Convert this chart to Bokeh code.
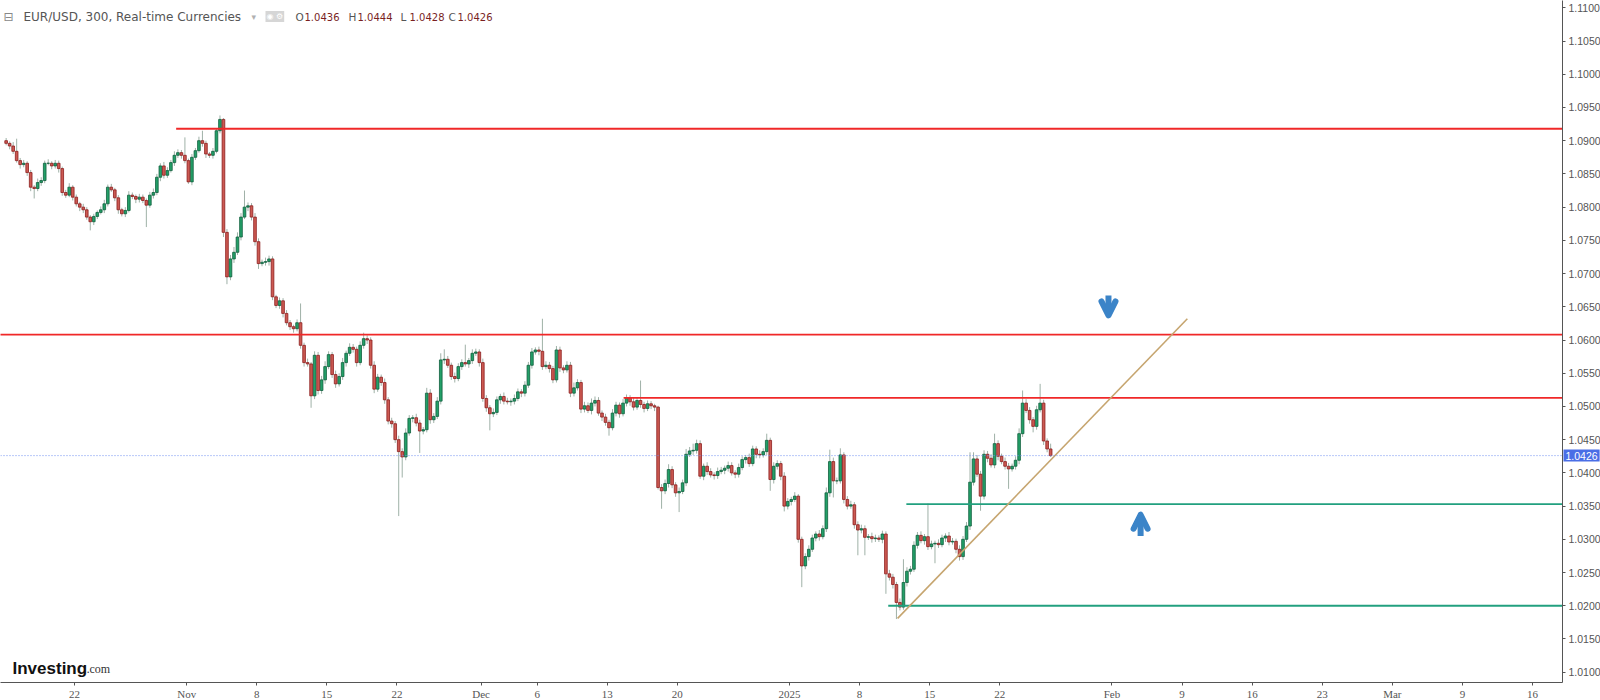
import numpy as np
from bokeh.plotting import figure
from bokeh.models import (ColumnDataSource, FixedTicker, Label, Arrow, OpenHead,
                          Span, PrintfTickFormatter)
from bokeh.embed import file_html
from bokeh.resources import INLINE

# ---------------- data ----------------
TITLE = "EUR/USD, 300, Real-time Currencies"
OHLC_KEYS = ["O", "H", "L", "C"]
OHLC_VALS = ["1.0436", "1.0444", "1.0428", "1.0426"]

CANDLE_START = "2024-10-15 03:00"
CANDLE_STEP_DAYS = 6 / 24
FIRST_OPEN = 1.0900

CLOSE = [
    1.0896, 1.0892, 1.0884, 1.0870, 1.0864, 1.0866, 1.0852, 1.0830, 1.0828, 1.0837,
    1.0840, 1.0866, 1.0866, 1.0862, 1.0866, 1.0858, 1.0822, 1.0818, 1.0830, 1.0815,
    1.0805, 1.0800, 1.0796, 1.0785, 1.0778, 1.0786, 1.0792, 1.0796, 1.0805, 1.0830,
    1.0826, 1.0814, 1.0796, 1.0790, 1.0795, 1.0818, 1.0816, 1.0812, 1.0815, 1.0810,
    1.0803, 1.0818, 1.0822, 1.0845, 1.0862, 1.0848, 1.0855, 1.0867, 1.0878, 1.0882,
    1.0878, 1.0870, 1.0838, 1.0875, 1.0885, 1.0900, 1.0896, 1.0880, 1.0878, 1.0884,
    1.0915, 1.0932, 1.0762, 1.0695, 1.0722, 1.0732, 1.0755, 1.0785, 1.0800, 1.0802,
    1.0785, 1.0748, 1.0715, 1.0717, 1.0718, 1.0722, 1.0665, 1.0652, 1.0659, 1.0640,
    1.0626, 1.0620, 1.0617, 1.0626, 1.0592, 1.0566, 1.0564, 1.0516, 1.0577, 1.0524,
    1.0540, 1.0560, 1.0578, 1.0548, 1.0534, 1.0545, 1.0566, 1.0580, 1.0589, 1.0586,
    1.0566, 1.0592, 1.0602, 1.0600, 1.0562, 1.0526, 1.0544, 1.0536, 1.0510, 1.0478,
    1.0474, 1.0450, 1.0432, 1.0424, 1.0460, 1.0482, 1.0483, 1.0475, 1.0463, 1.0465,
    1.0520, 1.0480, 1.0485, 1.0508, 1.0570, 1.0571, 1.0562, 1.0545, 1.0542, 1.0560,
    1.0566, 1.0564, 1.0569, 1.0580, 1.0582, 1.0566, 1.0512, 1.0498, 1.0489, 1.0491,
    1.0510, 1.0515, 1.0508, 1.0507, 1.0508, 1.0512, 1.0522, 1.0520, 1.0532, 1.0562,
    1.0582, 1.0585, 1.0583, 1.0560, 1.0562, 1.0557, 1.0540, 1.0585, 1.0558, 1.0555,
    1.0562, 1.0520, 1.0528, 1.0536, 1.0496, 1.0501, 1.0494, 1.0505, 1.0509, 1.0490,
    1.0484, 1.0476, 1.0468, 1.0490, 1.0502, 1.0489, 1.0505, 1.0513, 1.0507, 1.0499,
    1.0509, 1.0503, 1.0497, 1.0504, 1.0501, 1.0499, 1.0378, 1.0373, 1.0384, 1.0405,
    1.0382, 1.0370, 1.0372, 1.0385, 1.0428, 1.0433, 1.0434, 1.0444, 1.0395, 1.0410,
    1.0402, 1.0397, 1.0396, 1.0402, 1.0404, 1.0407, 1.0411, 1.0400, 1.0398, 1.0408,
    1.0420, 1.0423, 1.0414, 1.0436, 1.0428, 1.0427, 1.0432, 1.0449, 1.0390, 1.0410,
    1.0414, 1.0395, 1.0350, 1.0357, 1.0360, 1.0365, 1.0300, 1.0260, 1.0274, 1.0285,
    1.0302, 1.0308, 1.0304, 1.0316, 1.0370, 1.0417, 1.0388, 1.0388, 1.0427, 1.0360,
    1.0350, 1.0352, 1.0322, 1.0314, 1.0316, 1.0303, 1.0304, 1.0301, 1.0302, 1.0300,
    1.0308, 1.0248, 1.0243, 1.0232, 1.0205, 1.0198, 1.0235, 1.0252, 1.0255, 1.0291,
    1.0306, 1.0298, 1.0304, 1.0289, 1.0293, 1.0294, 1.0292, 1.0302, 1.0305, 1.0296,
    1.0297, 1.0285, 1.0274, 1.0300, 1.0320, 1.0386, 1.0421, 1.0398, 1.0365, 1.0428,
    1.0422, 1.0412, 1.0444, 1.0425, 1.0417, 1.0410, 1.0406, 1.0410, 1.0419, 1.0459,
    1.0505, 1.0494, 1.0480, 1.0470, 1.0495, 1.0505, 1.0448, 1.0436, 1.0426,
]

# wick lengths above / below the body, in pips
WICK_UP = [
    4, 3, 6, 19, 4, 5, 3, 4, 3, 6,   5, 4, 6, 3, 5, 4, 3, 4, 6, 3,
    4, 3, 5, 4, 3, 4, 3, 5, 6, 4,    5, 3, 4, 3, 5, 6, 4, 3, 5, 4,
    3, 5, 6, 5, 4, 6, 5, 4, 6, 5,    4, 27, 3, 5, 4, 6, 15, 4, 3, 5,
    4, 6, 2, 5, 6, 8, 7, 6, 25, 5,   4, 6, 5, 4, 6, 5, 4, 3, 5, 4,
    5, 4, 3, 5, 29, 4, 6, 3, 6, 5,   6, 8, 5, 4, 6, 5, 7, 4, 6, 5,
    4, 6, 9, 5, 4, 6, 5, 4, 6, 4,    5, 4, 6, 5, 7, 5, 4, 6, 5, 4,
    8, 6, 5, 6, 10, 15, 5, 4, 6, 5,  5, 27, 4, 6, 5, 4, 6, 5, 4, 6,
    5, 4, 6, 5, 4, 6, 5, 4, 6, 5,    6, 4, 5, 49, 6, 5, 4, 6, 5, 4,
    6, 5, 8, 5, 4, 6, 5, 7, 6, 5,    4, 5, 4, 6, 5, 4, 6, 5, 4, 6,
    5, 30, 4, 5, 4, 3, 2, 5, 6, 8,   5, 4, 6, 5, 8, 6, 10, 6, 5, 4,
    6, 5, 4, 6, 5, 4, 6, 5, 4, 6,    5, 4, 6, 5, 4, 6, 5, 10, 4, 6,
    5, 4, 6, 5, 4, 6, 3, 4, 5, 6,    5, 4, 6, 5, 8, 18, 6, 5, 10, 4,
    5, 6, 4, 5, 6, 5, 4, 6, 5, 4,    5, 4, 6, 5, 4, 6, 35, 6, 5, 6,
    5, 6, 4, 50, 5, 4, 6, 5, 4, 6,   5, 4, 6, 5, 6, 45, 10, 6, 5, 6,
    5, 6, 15, 5, 4, 6, 5, 4, 6, 8,   19, 6, 5, 4, 6, 29, 5, 4, 8,
]
WICK_DOWN = [
    3, 5, 4, 3, 6, 4, 5, 6, 15, 4,   5, 4, 3, 5, 4, 6, 5, 4, 3, 5,
    4, 6, 5, 4, 13, 5, 4, 3, 5, 4,   3, 5, 6, 4, 5, 3, 4, 6, 5, 4,
    33, 4, 5, 4, 6, 5, 4, 3, 5, 4,   5, 4, 3, 5, 4, 3, 5, 6, 4, 5,
    3, 4, 7, 11, 5, 6, 4, 5, 3, 6,   5, 6, 8, 4, 5, 6, 5, 4, 5, 6,
    4, 5, 6, 4, 5, 6, 4, 18, 5, 6,   5, 6, 4, 5, 6, 4, 5, 6, 4, 5,
    6, 4, 5, 6, 5, 6, 4, 5, 6, 5,    6, 5, 97, 31, 5, 4, 6, 5, 33, 5,
    4, 6, 5, 4, 5, 6, 4, 5, 6, 4,    5, 4, 6, 5, 4, 6, 5, 6, 25, 5,
    4, 6, 5, 4, 6, 5, 4, 6, 5, 4,    5, 4, 6, 5, 4, 6, 5, 4, 6, 5,
    4, 6, 5, 4, 6, 5, 4, 6, 5, 4,    6, 5, 12, 4, 5, 6, 4, 5, 6, 5,
    4, 5, 6, 4, 5, 6, 3, 27, 5, 6,   5, 6, 29, 4, 5, 4, 6, 5, 4, 6,
    5, 4, 6, 5, 4, 6, 5, 4, 6, 5,    4, 6, 5, 4, 6, 5, 4, 5, 17, 6,
    5, 6, 8, 5, 6, 4, 5, 32, 5, 6,   4, 5, 6, 4, 5, 6, 25, 5, 4, 6,
    5, 4, 6, 38, 5, 27, 4, 6, 5, 4,  6, 30, 5, 6, 25, 5, 4, 6, 5, 4,
    5, 4, 6, 5, 4, 29, 5, 4, 6, 5,   4, 6, 6, 5, 4, 6, 5, 4, 22, 5,
    6, 4, 5, 6, 4, 5, 30, 4, 5, 6,   5, 4, 6, 9, 5, 4, 6, 5, 2,
]

# drawn levels: (start time, price)
RES_START = ["2024-10-31 06:00", "2024-10-14 00:00", "2024-12-16 04:00"]
RES_LEVEL = [1.0918, 1.0608, 1.0513]
SUP_START = ["2025-01-13 08:00", "2025-01-10 01:00"]
SUP_LEVEL = [1.0353, 1.0200]
TREND_T = ["2025-01-10 17:00", "2025-02-10 09:00"]
TREND_P = [1.0181, 1.0632]
SIGNAL_T = ["2025-01-31 18:00", "2025-02-05 01:00"]
SIGNAL_FROM = [1.0667, 1.0305]
SIGNAL_TO = [1.0637, 1.0337]

TICK_DATES = ["2024-10-22", "2024-11-01", "2024-11-08", "2024-11-15", "2024-11-22",
              "2024-12-01", "2024-12-06", "2024-12-13", "2024-12-20", "2025-01-01",
              "2025-01-08", "2025-01-15", "2025-01-22", "2025-02-01", "2025-02-09",
              "2025-02-16", "2025-02-23", "2025-03-01", "2025-03-09", "2025-03-16"]
TICK_LABELS = ["22", "Nov", "8", "15", "22", "Dec", "6", "13", "20", "2025",
               "8", "15", "22", "Feb", "9", "16", "23", "Mar", "9", "16"]
PRICE_TICK_MIN, PRICE_TICK_MAX, PRICE_TICK_STEP = 1.0100, 1.1100, 0.0050

# ---------------- helpers ----------------
START = np.datetime64("2024-10-15")


def td(stamp):
    day, _, hm = stamp.partition(" ")
    hours = int(hm.split(":")[0]) if hm else 0
    return float(np.busday_count(START, np.datetime64(day))) + hours / 24.0


FRAME_W, FRAME_H = 1562, 682
PX_PER_DAY, PX_ORIGIN = 14.02, 3.9
X0, X1 = -PX_ORIGIN / PX_PER_DAY, (FRAME_W - PX_ORIGIN) / PX_PER_DAY
Y0, Y1 = 1.00845, 1.11110


def px2x(px):
    return (px - PX_ORIGIN) / PX_PER_DAY


def px2y(py):
    return Y1 - py * (Y1 - Y0) / FRAME_H


closes = np.array(CLOSE)
opens = np.concatenate([[FIRST_OPEN], closes[:-1]])
highs = np.maximum(opens, closes) + np.array(WICK_UP) / 1e4
lows = np.minimum(opens, closes) - np.array(WICK_DOWN) / 1e4
xs = td(CANDLE_START) + CANDLE_STEP_DAYS * np.arange(len(closes))
inc = closes >= opens

src_all = ColumnDataSource(dict(x=xs, h=highs, l=lows))
src_inc = ColumnDataSource(dict(x=xs[inc], top=closes[inc], bot=opens[inc]))
src_dec = ColumnDataSource(dict(x=xs[~inc], top=opens[~inc], bot=closes[~inc]))

# ---------------- figure ----------------
p = figure(frame_width=FRAME_W, frame_height=FRAME_H, x_range=(X0, X1), y_range=(Y0, Y1),
           y_axis_location="right", output_backend="svg", toolbar_location=None,
           min_border=0, background_fill_color="white", border_fill_color="white")
p.outline_line_color = None
p.xgrid.visible = False
p.ygrid.visible = False

WICK = "#9fb1a7"
p.segment("x", "h", "x", "l", source=src_all, line_color=WICK, line_width=1)
BW = 0.19
p.vbar(x="x", width=BW, top="top", bottom="bot", source=src_inc,
       fill_color="#23a068", line_color="#0f5e3c", line_width=0.8)
p.vbar(x="x", width=BW, top="top", bottom="bot", source=src_dec,
       fill_color="#cc5a52", line_color="#8c1d1d", line_width=0.8)

# levels
p.ray(x=[td(s) for s in RES_START], y=RES_LEVEL, length=0, angle=0,
      line_color="#f02828", line_width=1.8)
p.ray(x=[td(s) for s in SUP_START], y=SUP_LEVEL, length=0, angle=0,
      line_color="#22a07f", line_width=1.8)
p.line([td(s) for s in TREND_T], TREND_P, line_color="#c6a56f", line_width=1.6)

# current price
last = CLOSE[-1]
p.add_layout(Span(location=last, dimension="width", line_color="#7190f2",
                  line_dash="1 2", line_width=1))

BLUE = "#3b84c8"
for t, a, b in zip(SIGNAL_T, SIGNAL_FROM, SIGNAL_TO):
    p.add_layout(Arrow(x_start=td(t), y_start=a, x_end=td(t), y_end=b,
                       line_color=BLUE, line_width=6,
                       end=OpenHead(size=14, line_color=BLUE, line_width=6,
                                    line_cap="round", line_join="round")))

# axes
ticks = list(np.round(np.arange(PRICE_TICK_MIN, PRICE_TICK_MAX + 1e-9, PRICE_TICK_STEP), 4))
p.yaxis.ticker = FixedTicker(ticks=ticks)
p.yaxis.formatter = PrintfTickFormatter(format="%.4f")
p.yaxis.axis_line_color = "#555555"
p.yaxis.major_tick_line_color = "#555555"
p.yaxis.major_tick_out = 3
p.yaxis.major_tick_in = 0
p.yaxis.minor_tick_line_color = None
p.yaxis.major_label_standoff = 3
p.yaxis.major_label_text_font = "Liberation Sans"
p.yaxis.major_label_text_font_size = "10.5px"
p.yaxis.major_label_text_color = "#555555"

xt = [td(d) for d in TICK_DATES]
p.xaxis.ticker = FixedTicker(ticks=xt)
p.xaxis.major_label_overrides = {v: lab for v, lab in zip(xt, TICK_LABELS)}
p.xaxis.axis_line_color = "#555555"
p.xaxis.major_tick_line_color = "#555555"
p.xaxis.major_tick_out = 3
p.xaxis.major_tick_in = 0
p.xaxis.minor_tick_line_color = None
p.xaxis.major_label_standoff = 2
p.xaxis.major_label_text_font = "Liberation Sans Narrow"
p.xaxis.major_label_text_font_size = "11px"
p.xaxis.major_label_text_color = "#555555"

# price tag on the axis: placed in the right side panel so it is not clipped to the frame
p.add_layout(Label(x=X1, y=last, x_offset=1, text=f"{last:.4f}", text_baseline="middle",
                   text_align="left", text_color="white", text_font="Liberation Sans",
                   text_font_size="10.5px", background_fill_color="#4a6ee6",
                   padding=2), "right")

# header
HY = px2y(16)
p.add_layout(Label(x=px2x(3), y=HY, text="⊟", text_baseline="middle", text_color="#888888",
                   text_font="DejaVu Sans", text_font_size="12px"))
p.add_layout(Label(x=px2x(23), y=HY, text=TITLE, text_baseline="middle", text_color="#555555",
                   text_font="DejaVu Sans", text_font_size="12px"))
p.add_layout(Label(x=px2x(251), y=HY, text="▾", text_baseline="middle", text_color="#b0b0b0",
                   text_font="DejaVu Sans", text_font_size="9px"))
p.add_layout(Label(x=px2x(265), y=HY, text="◉ ⚙", text_baseline="middle", text_color="#ffffff",
                   text_font="DejaVu Sans", text_font_size="8px",
                   background_fill_color="#d6d6d6", padding=1))
key_px = [295, 348, 400, 448]
for k, v, xp in zip(OHLC_KEYS, OHLC_VALS, key_px):
    p.add_layout(Label(x=px2x(xp), y=HY, text=k, text_baseline="middle", text_color="#555555",
                       text_font="DejaVu Sans", text_font_size="10.5px"))
    p.add_layout(Label(x=px2x(xp + 9), y=HY, text=v, text_baseline="middle",
                       text_color="#7a1f1f", text_font="DejaVu Sans", text_font_size="10px"))

# logo
p.add_layout(Label(x=px2x(12), y=px2y(668), text="Investing", text_baseline="alphabetic",
                   text_color="#111111", text_font="Liberation Sans", text_font_style="bold",
                   text_font_size="17px"))
p.add_layout(Label(x=px2x(86), y=px2y(668), text=".", text_baseline="alphabetic",
                   text_color="#333333", text_font="Liberation Sans", text_font_size="12px"))
p.add_layout(Label(x=px2x(89), y=px2y(668), text="com", text_baseline="alphabetic",
                   text_color="#333333", text_font="Liberation Sans Narrow",
                   text_font_size="12px"))

open("out.html", "w").write(file_html(p, INLINE))
